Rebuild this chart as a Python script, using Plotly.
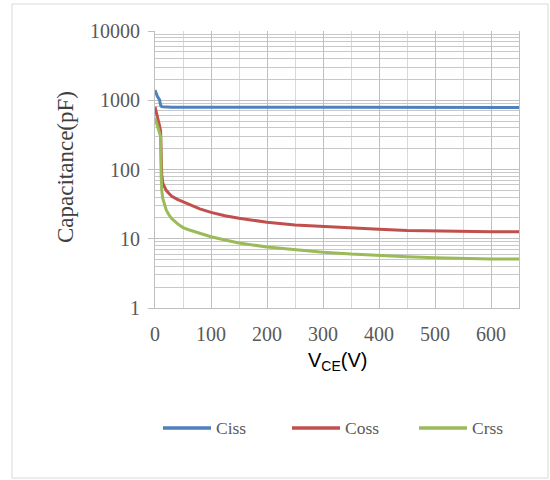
import plotly.graph_objects as go

# Data
vce = [0, 2, 4, 6, 8, 10, 11, 12, 14, 17, 20, 25, 30, 40, 50, 60, 80, 100, 125, 150,
       200, 250, 300, 350, 400, 450, 500, 550, 600, 650]
ciss = [1400, 1250, 1150, 1080, 1020, 850, 820, 810, 805, 800, 798, 796, 795, 793, 792, 791,
        790, 790, 790, 790, 790, 790, 790, 790, 790, 790, 788, 786, 785, 785]
coss = [800, 700, 600, 520, 430, 360, 150, 85, 63, 55, 50, 45, 41, 37, 34, 31.5, 27, 24, 21.5, 19.8,
        17.3, 15.8, 15.0, 14.3, 13.7, 13.2, 12.9, 12.7, 12.6, 12.6]
crss = [560, 500, 450, 400, 350, 300, 80, 50, 38, 30, 26, 22, 19.5, 16.5, 14.5, 13.5, 12.0, 10.7, 9.6, 8.7,
        7.6, 6.9, 6.4, 6.0, 5.7, 5.5, 5.3, 5.15, 5.1, 5.1]

names = ["Ciss", "Coss", "Crss"]
colors = ["#4F81BD", "#C0504D", "#9BBB59"]
x_ticks = [0, 100, 200, 300, 400, 500, 600]
y_ticks = [1, 10, 100, 1000, 10000]

# plot-area pixel geometry (for paper-coordinate placement of decorations)
L, R, T, B = 155, 519, 31, 308
W, H = R - L, B - T


def px(x):
    return (x - L) / W


def py(y):
    return (B - y) / H


fig = go.Figure()
for name, vals, col in zip(names, [ciss, coss, crss], colors):
    fig.add_trace(go.Scatter(x=vce, y=vals, name=name, mode="lines",
                             line=dict(color=col, width=3), showlegend=False))

tick_font = dict(family="Liberation Serif", size=20, color="#595959")

shapes = [dict(type="rect", xref="paper", yref="paper",
               x0=px(12), x1=px(548), y0=py(478), y1=py(4),
               line=dict(color="#D9D9D9", width=1), fillcolor="rgba(0,0,0,0)", layer="below")]
annotations = [
    dict(text="Capacitance(pF)", xref="paper", yref="paper",
         x=px(65), y=py(167), xanchor="center", yanchor="middle",
         textangle=-90, showarrow=False,
         font=dict(family="Liberation Serif", size=23, color="#404040")),
    dict(text="V<sub>CE</sub>(V)", xref="paper", yref="paper",
         x=0.5, y=py(361), xanchor="center", yanchor="middle",
         showarrow=False,
         font=dict(family="Liberation Sans", size=20, color="#000000")),
]

# legend (drawn as key lines + labels)
leg_x0 = [163, 292, 419]
leg_y = 428
for name, col, x0 in zip(names, colors, leg_x0):
    shapes.append(dict(type="line", xref="paper", yref="paper",
                       x0=px(x0), x1=px(x0 + 48), y0=py(leg_y), y1=py(leg_y),
                       line=dict(color=col, width=3.5)))
    annotations.append(dict(text=name, xref="paper", yref="paper",
                            x=px(x0 + 51), y=py(leg_y), xanchor="left", yanchor="middle",
                            showarrow=False,
                            font=dict(family="Liberation Serif", size=17.5, color="#595959")))

fig.update_layout(
    width=550, height=480,
    margin=dict(l=L, r=550 - R, t=T, b=480 - B),
    paper_bgcolor="white", plot_bgcolor="white",
    showlegend=False,
    xaxis=dict(range=[0, 650], tickvals=x_ticks, ticktext=[str(v) for v in x_ticks],
               showgrid=True, gridcolor="#BFBFBF", gridwidth=1,
               minor=dict(dtick=50, showgrid=True, gridcolor="#D9D9D9"),
               showline=True, linecolor="#BFBFBF", linewidth=1,
               ticks="", tickfont=tick_font, ticklabelstandoff=8, zeroline=False),
    yaxis=dict(type="log", range=[0, 4], tickvals=y_ticks, ticktext=[str(v) for v in y_ticks],
               showgrid=True, gridcolor="#BFBFBF", gridwidth=1,
               minor=dict(dtick="D1", showgrid=True, gridcolor="#C8C8C8"),
               showline=True, linecolor="#BFBFBF", linewidth=1, mirror=True,
               ticks="outside", ticklen=6, tickcolor="#BFBFBF",
               tickfont=tick_font, ticklabelstandoff=4, zeroline=False),
    shapes=shapes,
    annotations=annotations,
)

fig.write_html("out.html")
